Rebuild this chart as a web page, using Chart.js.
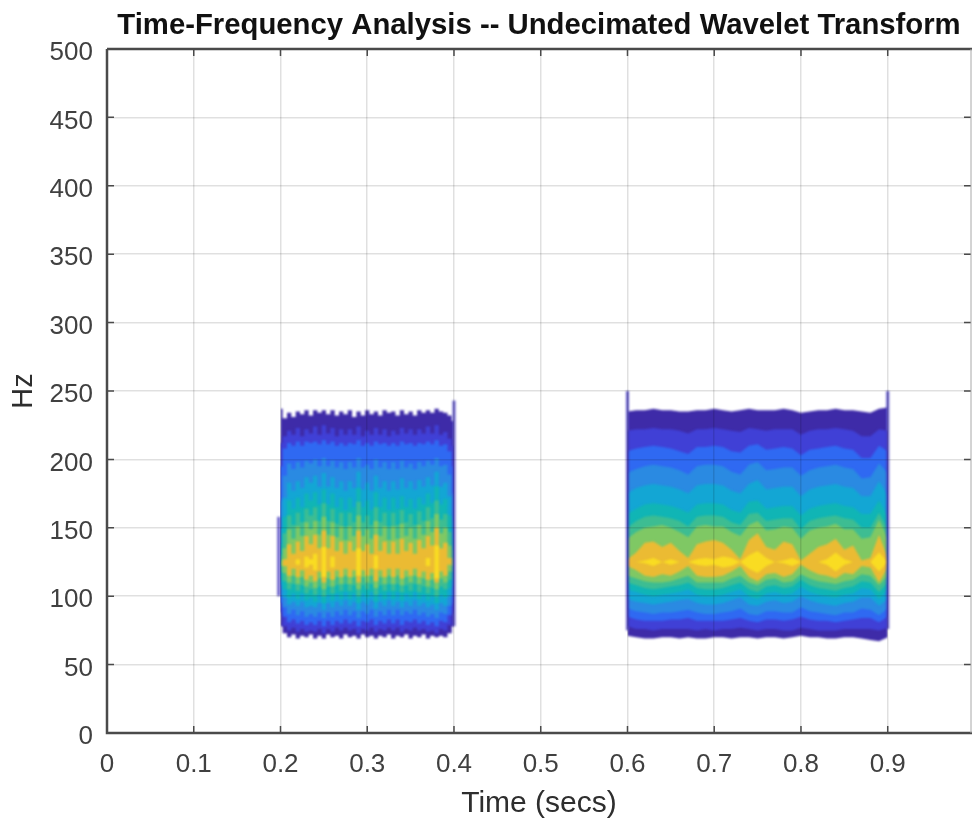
<!DOCTYPE html>
<html>
<head>
<meta charset="utf-8">
<title>Time-Frequency Analysis</title>
<script src="https://cdn.jsdelivr.net/npm/chart.js@4"></script>
<style>
    html, body { margin: 0; padding: 0; background: #fff; overflow: hidden; }
    canvas { display: block; filter: blur(0.7px); }
</style>
</head>
<body>
<canvas id="tfPlot" width="972" height="820"></canvas>
<script>
const xTickValues = [0, 0.1, 0.2, 0.3, 0.4, 0.5, 0.6, 0.7, 0.8, 0.9];
const xTickLabels = ['0', '0.1', '0.2', '0.3', '0.4', '0.5', '0.6', '0.7', '0.8', '0.9'];
const yTickValues = [0, 50, 100, 150, 200, 250, 300, 350, 400, 450, 500];

// contour bands, outermost first
const levelColors = ['#3e2ba8', '#4040d6', '#2f69f2', '#2a8ae2', '#13a6d4', '#10b5b5', '#3dbd92', '#7fc864', '#ebbb33', '#f9dc22'];

// first burst, 0.2 to 0.4 s
const timesA = [0.2, 0.205, 0.21, 0.215, 0.22, 0.225, 0.23, 0.235, 0.24, 0.245, 0.25, 0.255, 0.26, 0.265, 0.27, 0.275, 0.28, 0.285, 0.29, 0.295, 0.3, 0.305, 0.31, 0.315, 0.32, 0.325, 0.33, 0.335, 0.34, 0.345, 0.35, 0.355, 0.36, 0.365, 0.37, 0.375, 0.38, 0.385, 0.39, 0.395, 0.4];
const topsA = [
    [237,230,234,231,235,233,236,232,236,234,236,233,236,232,235,233,236,231,235,232,236,233,235,232,236,234,235,232,236,233,235,232,236,234,236,234,237,235,234,232,228],
    [212,217,221,218,223,217,222,219,224,218,225,219,223,217,222,218,222,218,224,217,221,218,223,218,222,217,221,218,223,219,222,218,222,219,224,219,225,218,220,215,210],
    [195,208,212,210,213,210,213,212,213,211,214,211,213,210,212,210,212,211,214,210,212,210,213,211,212,210,212,210,213,211,212,210,212,211,213,211,214,210,211,206,195],
    [170,188,197,193,198,194,199,197,200,195,201,195,199,194,198,193,198,194,201,194,196,193,200,194,198,193,198,193,199,194,197,193,198,195,199,196,201,195,196,189,175],
    [150,172,183,177,184,179,187,183,188,180,190,180,187,179,184,177,184,179,191,178,183,177,188,179,184,177,184,178,186,179,184,178,185,180,187,181,191,180,183,173,155],
    [138,158,170,164,172,165,175,170,176,167,178,167,175,165,172,163,172,165,179,165,170,163,176,165,172,163,172,164,173,165,171,164,172,167,175,168,180,167,171,159,142],
    [130,146,159,152,161,154,164,159,165,155,168,155,164,153,161,151,161,154,169,154,159,152,165,154,161,151,161,152,163,154,160,152,162,155,165,157,170,156,160,147,134],
    [126,135,149,142,151,144,154,149,155,145,158,145,154,143,151,141,151,144,159,144,149,142,155,144,151,141,151,142,153,144,150,142,152,145,155,147,160,146,150,137,128],
    [125,127,138,131,140,133,144,138,145,135,148,135,144,133,140,131,140,133,148,133,138,131,145,133,140,131,140,131,142,133,139,131,141,135,144,137,150,135,139,128,125],
    [125,125,125,125,127,125,129,127,131,125,136,125,129,125,125,125,125,125,135,125,125,125,130,125,125,125,125,125,125,125,125,125,125,125,128,125,137,125,125,125,125]
];
const bottomsA = [
    [78,73,70,72,69,71,70,72,69,71,69,72,70,71,69,72,70,71,69,72,70,71,69,71,70,72,69,71,70,72,69,71,70,72,69,71,70,71,70,73,78],
    [88,78,75,77,74,76,74,75,74,76,73,76,74,77,75,77,75,76,73,76,75,77,74,76,75,77,75,77,74,76,75,77,75,76,74,75,73,76,75,79,88],
    [95,85,81,83,80,82,79,81,79,82,78,82,79,82,80,83,80,82,78,82,81,83,79,82,80,83,80,83,79,82,81,83,80,82,79,81,78,82,81,86,95],
    [100,92,87,90,86,89,85,87,85,88,84,88,85,89,86,90,86,89,84,89,87,90,85,89,86,90,86,90,86,89,87,90,86,88,85,87,84,88,87,93,100],
    [108,99,94,96,93,96,92,93,92,95,90,95,92,96,93,97,93,96,90,96,94,97,91,96,93,97,93,96,92,96,93,97,93,95,92,94,90,95,93,100,108],
    [112,105,99,102,98,102,97,99,96,101,95,101,97,102,98,103,98,102,95,102,99,103,96,102,98,103,98,103,97,102,99,103,98,101,97,100,95,101,99,106,112],
    [118,111,105,109,104,108,102,105,101,107,100,107,102,108,104,109,104,108,100,108,105,109,101,108,104,109,104,109,103,108,104,109,103,107,102,106,100,107,105,112,118],
    [122,117,110,115,109,114,107,110,106,113,105,113,107,114,109,115,109,114,105,114,110,115,106,114,109,115,109,115,108,114,110,115,109,113,107,112,105,113,110,118,122],
    [125,122,115,120,114,119,112,115,111,118,110,118,112,119,114,120,114,119,110,119,115,120,111,119,114,120,114,120,113,119,115,120,114,118,112,117,110,118,115,123,125],
    [125,125,125,125,123,125,121,123,119,125,114,125,121,125,125,125,125,125,115,125,125,125,120,125,125,125,125,125,125,125,125,125,125,125,122,125,113,125,125,125,125]
];

// second burst, 0.6 to 0.9 s
const timesB = [0.6, 0.61, 0.62, 0.63, 0.64, 0.65, 0.66, 0.67, 0.68, 0.69, 0.7, 0.71, 0.72, 0.73, 0.74, 0.75, 0.76, 0.77, 0.78, 0.79, 0.8, 0.81, 0.82, 0.83, 0.84, 0.85, 0.86, 0.87, 0.88, 0.89, 0.9];
const topsB = [
    [235,236,236,237,236,236,235,235,236,236,237,236,235,236,237,236,236,236,237,236,234,235,236,236,237,236,236,235,234,237,238],
    [221,222,222,223,222,222,221,219,222,222,223,222,221,220,223,222,221,222,222,222,218,221,222,222,223,222,221,217,217,222,221],
    [206,208,209,210,209,208,206,204,209,209,210,209,206,205,210,211,207,208,209,208,203,207,208,209,210,208,207,201,201,210,206],
    [190,193,195,196,195,194,192,189,195,196,196,195,191,189,196,198,192,193,194,194,188,192,194,195,196,194,193,186,187,197,190],
    [175,179,181,182,181,180,178,175,181,182,182,181,177,175,182,185,178,179,180,180,173,178,180,181,182,180,179,173,173,184,174],
    [160,164,167,168,167,166,164,161,167,168,168,167,163,161,169,170,164,165,166,166,159,164,166,167,168,166,165,160,160,170,158],
    [150,155,158,159,158,157,155,151,158,159,159,158,154,152,160,161,155,156,157,157,149,155,157,158,159,157,156,150,150,161,149],
    [142,147,150,151,152,150,147,143,151,152,151,151,147,144,152,155,148,149,151,150,142,148,150,151,153,149,149,142,143,156,142],
    [127,132,139,140,136,139,133,128,138,140,141,139,134,127,141,146,136,134,140,138,126,131,136,138,142,134,137,126,128,145,128],
    [125,125,126,128,125,127,125,125,127,128,127,129,128,125,130,133,128,125,126,128,125,125,125,127,132,127,125,125,125,132,125]
];
const bottomsB = [
    [71,70,69,69,70,70,69,70,69,69,70,70,69,70,70,69,70,70,69,70,71,70,70,69,69,70,70,69,68,67,70],
    [78,76,76,75,76,76,76,76,75,76,75,76,76,77,76,75,76,76,75,75,77,76,75,75,75,76,76,76,76,75,77],
    [85,83,82,82,82,83,83,84,82,82,82,82,83,84,82,81,83,83,82,83,85,83,82,82,81,82,83,84,84,81,85],
    [91,89,88,87,88,88,89,90,88,87,87,88,89,91,87,86,89,89,88,88,92,89,88,87,86,88,88,91,90,86,91],
    [98,96,95,94,95,96,97,98,95,94,94,95,97,99,94,93,96,97,95,96,100,97,95,94,93,95,96,99,99,93,98],
    [105,103,101,100,101,102,103,105,101,100,100,101,103,105,100,98,102,103,101,102,107,103,101,100,99,101,102,106,105,98,105],
    [110,108,106,105,106,107,108,110,106,105,105,106,108,110,105,103,107,108,106,107,112,108,106,105,104,106,107,111,110,103,110],
    [115,113,111,110,110,111,113,115,110,110,110,110,113,115,110,108,112,113,110,111,116,113,111,110,109,111,112,116,115,108,115],
    [122,119,115,114,116,115,118,122,115,114,114,115,118,122,114,111,116,117,114,116,123,119,116,115,113,117,116,122,121,110,121],
    [125,125,124,122,125,123,125,125,123,122,123,121,122,125,120,117,122,125,124,122,125,125,125,123,118,123,125,125,125,118,125]
];

// thin spikes at the burst edges
const spikeTimes = [0.198, 0.4, 0.6, 0.9];
const spikeLows = [100, 78, 75, 76];
const spikeHighs = [158, 243, 250, 250];

const datasets = [];

function addBurst(times, tops, bottoms, stepped) {
    levelColors.forEach((color, i) => {
        const topIndex = datasets.length;
        datasets.push({
            data: times.map((t, j) => ({ x: t, y: tops[i][j] })),
            backgroundColor: color,
            borderWidth: 0,
            stepped: stepped,
            fill: { target: topIndex + 1 },
            order: 100 - i
        });
        datasets.push({
            data: times.map((t, j) => ({ x: t, y: bottoms[i][j] })),
            borderWidth: 0,
            stepped: stepped,
            fill: false,
            order: 100 - i
        });
    });
}

addBurst(timesA, topsA, bottomsA, 'middle');
addBurst(timesB, topsB, bottomsB, false);

spikeTimes.forEach((t, i) => {
    datasets.push({
        data: [{ x: t, y: spikeLows[i] }, { x: t, y: spikeHighs[i] }],
        borderColor: 'rgba(70, 60, 190, 0.85)',
        borderWidth: 3,
        fill: false,
        order: 50
    });
});

// the contours are soft in the source image
const softMarks = {
    id: 'softMarks',
    beforeDatasetsDraw(chart) {
        chart.ctx.save();
        chart.ctx.filter = 'blur(1.3px)';
    },
    afterDatasetsDraw(chart) {
        chart.ctx.restore();
    }
};

// matlab style box with inward ticks
const axesBox = {
    id: 'axesBox',
    afterDraw(chart) {
        const { ctx, chartArea: a, scales } = chart;
        ctx.save();
        ctx.strokeStyle = '#4a4a4a';
        ctx.lineWidth = 1.5;
        ctx.beginPath();
        scales.x.ticks.forEach(t => {
            const px = scales.x.getPixelForValue(t.value);
            ctx.moveTo(px, a.bottom);
            ctx.lineTo(px, a.bottom - 7);
            ctx.moveTo(px, a.top);
            ctx.lineTo(px, a.top + 7);
        });
        scales.y.ticks.forEach(t => {
            const py = scales.y.getPixelForValue(t.value);
            ctx.moveTo(a.left, py);
            ctx.lineTo(a.left + 7, py);
            ctx.moveTo(a.right, py);
            ctx.lineTo(a.right - 7, py);
        });
        ctx.stroke();
        ctx.lineWidth = 2.5;
        ctx.beginPath();
        ctx.moveTo(a.left, a.top);
        ctx.lineTo(a.left, a.bottom);
        ctx.lineTo(972, a.bottom);
        ctx.moveTo(a.left, a.top);
        ctx.lineTo(972, a.top);
        ctx.stroke();
        ctx.strokeStyle = '#a8a8a8';
        ctx.lineWidth = 1;
        ctx.beginPath();
        ctx.moveTo(a.right, a.top);
        ctx.lineTo(a.right, a.bottom);
        ctx.stroke();
        ctx.restore();
    }
};

const gridStyle = { color: 'rgba(0, 0, 0, 0.12)', lineWidth: 1.5, z: 1, drawTicks: false };

new Chart(document.getElementById('tfPlot'), {
    type: 'scatter',
    data: { datasets: datasets },
    plugins: [softMarks, axesBox],
    options: {
        responsive: false,
        animation: false,
        showLine: true,
        pointRadius: 0,
        layout: { padding: { right: 1 } },
        elements: { point: { radius: 0 }, line: { tension: 0 } },
        plugins: {
            legend: { display: false },
            tooltip: { enabled: false },
            title: {
                display: true,
                fullSize: false,
                text: 'Time-Frequency Analysis -- Undecimated Wavelet Transform',
                color: '#111111',
                font: { family: 'Liberation Sans', size: 29.3, weight: 'bold', lineHeight: 1.2 },
                padding: { top: 8, bottom: 5.8 }
            }
        },
        scales: {
            x: {
                type: 'linear',
                min: 0,
                max: 0.996,
                grid: gridStyle,
                border: { display: false },
                afterBuildTicks: scale => { scale.ticks = xTickValues.map(v => ({ value: v })); },
                afterFit: scale => { scale.height = 87; },
                ticks: {
                    color: '#404040',
                    padding: 16,
                    maxRotation: 0,
                    autoSkip: false,
                    font: { family: 'Liberation Sans', size: 26 },
                    callback: (value, index) => xTickLabels[index]
                },
                title: {
                    display: true,
                    text: 'Time (secs)',
                    color: '#2e2e2e',
                    font: { family: 'Liberation Sans', size: 30, lineHeight: 1.1 },
                    padding: 0
                }
            },
            y: {
                min: 0,
                max: 500,
                grid: gridStyle,
                border: { display: false },
                afterBuildTicks: scale => { scale.ticks = yTickValues.map(v => ({ value: v })); },
                afterFit: scale => { scale.width = 107; },
                ticks: {
                    color: '#404040',
                    padding: 14,
                    autoSkip: false,
                    labelOffset: 4,
                    font: { family: 'Liberation Sans', size: 26 }
                },
                title: {
                    display: true,
                    text: 'Hz',
                    color: '#2e2e2e',
                    font: { family: 'Liberation Sans', size: 29, lineHeight: 1.2 },
                    padding: { top: 7, bottom: 0 }
                }
            }
        }
    }
});
</script>
</body>
</html>
